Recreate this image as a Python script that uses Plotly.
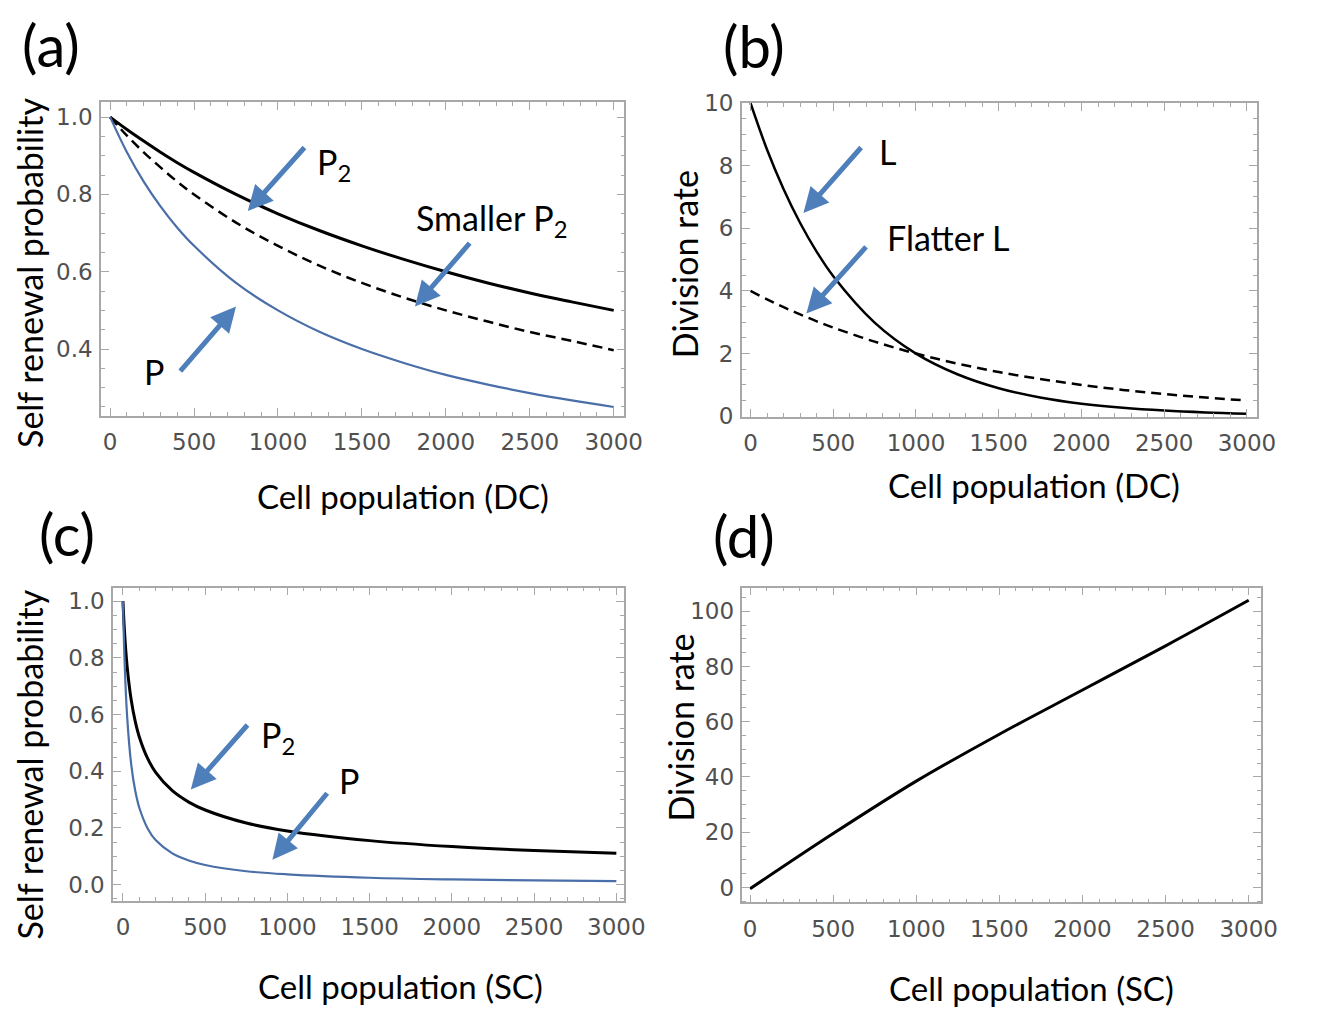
import plotly.graph_objects as go

# ---------------- data ----------------
x_a = [0, 100, 200, 300, 400, 500, 750, 1000, 1250, 1500, 1750, 2000, 2250, 2500, 2750, 3000]
p2_a = [1.0, 0.968, 0.938, 0.909, 0.882, 0.857, 0.800, 0.750, 0.706, 0.667, 0.632, 0.600, 0.571, 0.545, 0.522, 0.500]
p2_small_a = [1.0, 0.952, 0.909, 0.870, 0.833, 0.800, 0.727, 0.667, 0.615, 0.571, 0.533, 0.500, 0.471, 0.444, 0.421, 0.397]
p_a = [1.0, 0.909, 0.833, 0.769, 0.714, 0.667, 0.571, 0.500, 0.444, 0.400, 0.364, 0.333, 0.308, 0.286, 0.267, 0.250]

x_b = [0, 100, 200, 300, 400, 500, 750, 1000, 1250, 1500, 1750, 2000, 2250, 2500, 2750, 3000]
l_b = [10.0, 8.51, 7.25, 6.17, 5.25, 4.47, 2.99, 2.00, 1.34, 0.894, 0.598, 0.400, 0.268, 0.179, 0.120, 0.080]
l_flat_b = [4.0, 3.73, 3.48, 3.25, 3.03, 2.83, 2.38, 2.00, 1.68, 1.41, 1.19, 1.00, 0.84, 0.707, 0.595, 0.50]

x_c = [0, 10, 25, 50, 75, 100, 150, 200, 300, 400, 500, 750, 1000, 1500, 2000, 2500, 3000]
p2_c = [1.0, 0.887, 0.772, 0.652, 0.575, 0.520, 0.445, 0.395, 0.331, 0.291, 0.263, 0.217, 0.189, 0.155, 0.134, 0.120, 0.110]
p_c = [1.0, 0.787, 0.597, 0.425, 0.330, 0.270, 0.198, 0.156, 0.110, 0.085, 0.069, 0.047, 0.036, 0.024, 0.018, 0.0144, 0.0121]

x_d = [0, 500, 1000, 1500, 2000, 2500, 3000]
rate_d = [-0.5, 19.5, 38.5, 55.5, 71.5, 87.5, 104.0]

x_ticks = [0, 500, 1000, 1500, 2000, 2500, 3000]
x_ticktext = ["0", "500", "1000", "1500", "2000", "2500", "3000"]
ya_ticks = [0.4, 0.6, 0.8, 1.0]
ya_text = ["0.4", "0.6", "0.8", "1.0"]
yb_ticks = [0, 2, 4, 6, 8, 10]
yb_text = ["0", "2", "4", "6", "8", "10"]
yc_ticks = [0, 0.2, 0.4, 0.6, 0.8, 1.0]
yc_text = ["0.0", "0.2", "0.4", "0.6", "0.8", "1.0"]
yd_ticks = [0, 20, 40, 60, 80, 100]
yd_text = ["0", "20", "40", "60", "80", "100"]

W, H = 1323, 1020
FRAME = "#a8a8a8"
TICKFONT = dict(family="DejaVu Sans, sans-serif", size=23, color="#505050")
TEXTFONT = "Lato, Open Sans, sans-serif"
BLUE_LINE = "#4a6ea8"
ARROW = "#4f7fba"
DASH = "10px,6px"


def px(xp):
    return xp / W


def py(yp):
    return 1 - yp / H


fig = go.Figure()

# panel (a)
fig.add_trace(go.Scatter(x=x_a, y=p2_a, mode="lines", line=dict(color="black", width=3, shape="spline"), xaxis="x", yaxis="y"))
fig.add_trace(go.Scatter(x=x_a, y=p2_small_a, mode="lines", line=dict(color="black", width=2.5, dash=DASH, shape="spline"), xaxis="x", yaxis="y"))
fig.add_trace(go.Scatter(x=x_a, y=p_a, mode="lines", line=dict(color=BLUE_LINE, width=2.2, shape="spline"), xaxis="x", yaxis="y"))
# panel (b)
fig.add_trace(go.Scatter(x=x_b, y=l_b, mode="lines", line=dict(color="black", width=2.5, shape="spline"), xaxis="x2", yaxis="y2"))
fig.add_trace(go.Scatter(x=x_b, y=l_flat_b, mode="lines", line=dict(color="black", width=2.5, dash=DASH, shape="spline"), xaxis="x2", yaxis="y2"))
# panel (c)
fig.add_trace(go.Scatter(x=x_c, y=p2_c, mode="lines", line=dict(color="black", width=3, shape="spline"), xaxis="x3", yaxis="y3"))
fig.add_trace(go.Scatter(x=x_c, y=p_c, mode="lines", line=dict(color=BLUE_LINE, width=2.2, shape="spline"), xaxis="x3", yaxis="y3"))
# panel (d)
fig.add_trace(go.Scatter(x=x_d, y=rate_d, mode="lines", line=dict(color="black", width=3, shape="spline"), xaxis="x4", yaxis="y4"))


def xax(domain, rng, anchor):
    return dict(domain=domain, range=rng, anchor=anchor, showgrid=False, zeroline=False,
                showline=True, linecolor=FRAME, linewidth=1.5, mirror="ticks",
                ticks="inside", ticklen=8, tickwidth=1.2, tickcolor=FRAME,
                tickmode="array", tickvals=x_ticks, ticktext=x_ticktext,
                minor=dict(ticks="inside", ticklen=4, tickwidth=1, tickcolor=FRAME, dtick=100, tick0=0, showgrid=False),
                tickfont=TICKFONT, ticklabelstandoff=5)


def yax(domain, rng, anchor, vals, texts, minor_dt):
    return dict(domain=domain, range=rng, anchor=anchor, showgrid=False, zeroline=False,
                showline=True, linecolor=FRAME, linewidth=1.5, mirror="ticks",
                ticks="inside", ticklen=8, tickwidth=1.2, tickcolor=FRAME,
                tickmode="array", tickvals=vals, ticktext=texts,
                minor=dict(ticks="inside", ticklen=4, tickwidth=1, tickcolor=FRAME, dtick=minor_dt, tick0=0, showgrid=False),
                tickfont=TICKFONT, ticklabelstandoff=2)


fig.update_layout(
    width=W, height=H, margin=dict(l=0, r=0, t=0, b=0),
    paper_bgcolor="white", plot_bgcolor="white", showlegend=False,
    xaxis=xax([px(102.7), px(635)], [-54.5, 3064], "y"),
    yaxis=yax([py(413), py(91.7)], [0.227, 1.038], "x", ya_ticks, ya_text, 0.05),
    xaxis2=xax([px(754.3), px(1278.3)], [-53, 3061], "y2"),
    yaxis2=yax([py(414.3), py(92.3)], [-0.03, 10.0], "x2", yb_ticks, yb_text, 0.5),
    xaxis3=xax([px(115), px(634.3)], [-60, 3045], "y3"),
    yaxis3=yax([py(910), py(589)], [-0.057, 1.048], "x3", yc_ticks, yc_text, 0.05),
    xaxis4=xax([px(755), px(1282)], [-45.6, 3072], "y4"),
    yaxis4=yax([py(911.7), py(589)], [-5.4, 108.6], "x4", yd_ticks, yd_text, 5),
)

ann = []


def text(xp, yp, s, size=30, angle=0):
    ann.append(dict(x=px(xp), y=py(yp), xref="paper", yref="paper", text=s, showarrow=False,
                    font=dict(family=TEXTFONT, size=size, color="black"), textangle=angle,
                    xanchor="center", yanchor="middle"))


def arrow(tx, ty, hx, hy):
    ann.append(dict(x=px(hx), y=py(hy), xref="paper", yref="paper", ax=tx - hx, ay=ty - hy,
                    axref="pixel", ayref="pixel", text="", showarrow=True,
                    arrowhead=2, arrowsize=1.0, arrowwidth=5, arrowcolor=ARROW))


# panel labels
text(52, 32, "(a)", size=58)
text(767, 33, "(b)", size=58)
text(68, 534, "(c)", size=58)
text(757, 536, "(d)", size=58)

# axis titles
text(410, 495, "Cell population (DC)", size=33)
text(1051, 484, "Cell population (DC)", size=33)
text(407, 997, "Cell population (SC)", size=33)
text(1049, 1000, "Cell population (SC)", size=33)
text(30, 267, "Self renewal probability", size=34, angle=-90)
text(696, 257, "Division rate", size=34, angle=-90)
text(30, 771, "Self renewal probability", size=34, angle=-90)
text(692, 732, "Division rate", size=34, angle=-90)

# curve labels and arrows, panel (a)
text(340, 155, "P<sub>2</sub>", size=34)
arrow(310, 138, 252, 203)
text(500, 212, "Smaller P<sub>2</sub>", size=34)
arrow(478, 236, 422, 301)
text(157, 367, "P", size=34)
arrow(183, 367, 240, 301)
# panel (b)
text(903, 142, "L", size=34)
arrow(876, 138, 817, 205)
text(965, 230, "Flatter L", size=34)
arrow(881, 240, 820, 308)
# panel (c)
text(283, 742, "P<sub>2</sub>", size=34)
arrow(252, 730, 194, 796)
text(355, 787, "P", size=34)
arrow(333, 800, 277, 868)

fig.update_layout(annotations=ann)

fig.write_html("out.html")
